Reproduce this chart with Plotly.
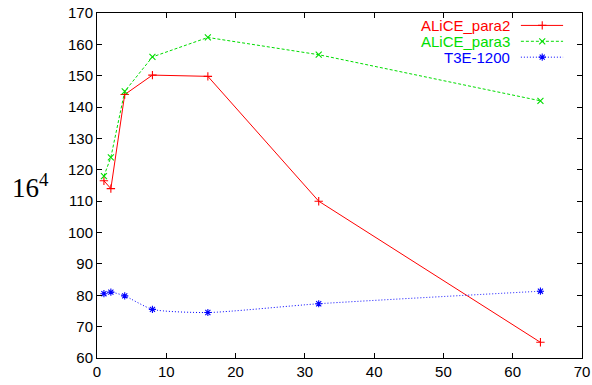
import plotly.graph_objects as go

procs = [1, 2, 4, 8, 16, 32, 64]
alice_para2 = [116.5, 114.0, 144.0, 150.2, 149.8, 110.0, 65.0]
alice_para3 = [118.0, 124.0, 145.0, 156.0, 162.2, 156.7, 142.0]
t3e_1200 = [80.5, 81.0, 79.8, 75.5, 74.5, 77.3, 81.3]

names = ["ALiCE_para2", "ALiCE_para3", "T3E-1200"]
colors = ["#ff0000", "#00dd00", "#0000ff"]
dashes = ["solid", "3px,2px", "1px,2px"]
symbols = ["cross-thin-open", "x-thin-open", "asterisk-open"]
series = [alice_para2, alice_para3, t3e_1200]
shapes_line = ["linear", "linear", "spline"]

fig = go.Figure()
for name, col, dsh, sym, ys, shp in zip(names, colors, dashes, symbols, series, shapes_line):
    fig.add_trace(go.Scatter(
        x=procs, y=ys, name=name, mode="lines+markers",
        line=dict(color=col, width=1, dash=dsh, shape=shp, smoothing=0.6),
        marker=dict(symbol=sym, size=6, line=dict(color=col, width=1.1), color=col),
        showlegend=False,
    ))

# legend drawn manually (text on the left, line sample on the right)
leg_y = [0.964, 0.918, 0.872]
for name, col, dsh, sym, yy in zip(names, colors, dashes, symbols, leg_y):
    fig.add_annotation(xref="paper", yref="paper", x=0.855, y=yy, text=name,
                       showarrow=False, xanchor="right", yanchor="middle",
                       font=dict(family="Liberation Sans, Arial, sans-serif", size=15, color=col))
    fig.add_trace(go.Scatter(
        x=[0.874, 0.918, 0.961], y=[yy, yy, yy], xaxis="x2", yaxis="y2",
        mode="lines", line=dict(color=col, width=1, dash=dsh), showlegend=False,
        hoverinfo="skip"))
    fig.add_trace(go.Scatter(
        x=[0.918], y=[yy], xaxis="x2", yaxis="y2", mode="markers",
        marker=dict(symbol=sym, size=6, line=dict(color=col, width=1.1), color=col),
        showlegend=False, hoverinfo="skip"))

fig.add_annotation(xref="paper", yref="paper", x=-0.095, y=0.50,
                   text="16<sup>4</sup>", showarrow=False, xanchor="right", yanchor="middle",
                   font=dict(family="Liberation Serif, DejaVu Serif, serif", size=27, color="black"))

axis_common = dict(showgrid=False, zeroline=False, showline=True, linecolor="black",
                   linewidth=1, mirror="ticks", ticks="inside", ticklen=5,
                   tickcolor="black", automargin=False,
                   tickfont=dict(family="Liberation Sans, Arial, sans-serif",
                                 size=15, color="black"))
fig.update_layout(
    width=592, height=385,
    margin=dict(l=97, r=10, t=13, b=27),
    paper_bgcolor="white", plot_bgcolor="white",
    xaxis=dict(range=[0, 70], dtick=10, **axis_common),
    yaxis=dict(range=[60, 170], dtick=10, **axis_common),
    xaxis2=dict(range=[0, 1], overlaying="x", visible=False),
    yaxis2=dict(range=[0, 1], overlaying="y", visible=False),
)

fig.write_html("out.html")
